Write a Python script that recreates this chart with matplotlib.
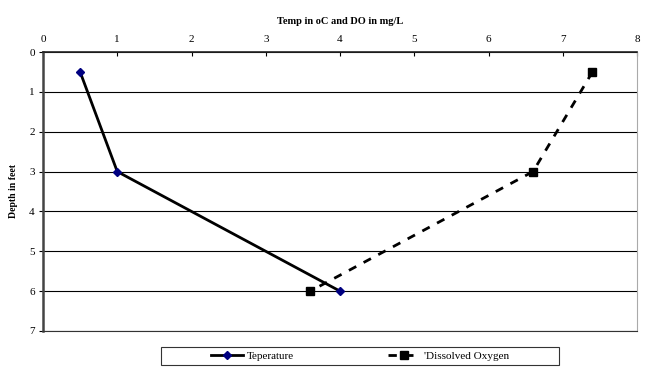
import matplotlib
matplotlib.use("Agg")
import matplotlib.pyplot as plt
from matplotlib.lines import Line2D
from matplotlib.patches import Rectangle

plt.rcParams['font.family'] = ['Liberation Serif', 'DejaVu Serif']

# data
depth = [0.5, 3, 6]
temp = [0.5, 1, 4]
oxygen = [7.4, 6.6, 3.6]
x_ticks = [0, 1, 2, 3, 4, 5, 6, 7, 8]
y_ticks = [0, 1, 2, 3, 4, 5, 6, 7]

fig = plt.figure(figsize=(6.49, 3.71), dpi=100)
ax = fig.add_axes([43 / 649, 1 - 331 / 371, 594 / 649, 279 / 371])

ax.plot(temp, depth, color='black', lw=2, marker='D', ms=4.5,
        mfc='#000080', mec='#000080', zorder=3)
ax.plot(oxygen, depth, color='black', lw=2, ls=(0, (3, 3)), marker='s', ms=6,
        mfc='black', mec='black', zorder=3)

ax.set_xlim(0, 8)
ax.set_ylim(7, 0)
ax.set_xticks(x_ticks)
ax.set_yticks(y_ticks)
ax.xaxis.tick_top()
ax.xaxis.set_label_position('top')
ax.tick_params(axis='x', direction='in', length=3, labelsize=8, pad=6, width=0.8)
ax.tick_params(axis='y', direction='out', length=3, labelsize=8, pad=3, width=0.8)

ax.yaxis.grid(True, color='black', lw=0.8)
ax.set_axisbelow(True)

ax.spines['left'].set_color('#444444')
ax.spines['left'].set_linewidth(1.8)
ax.spines['top'].set_color('#222222')
ax.spines['top'].set_linewidth(1.2)
ax.spines['right'].set_color('#aaaaaa')
ax.spines['right'].set_linewidth(0.8)
ax.spines['bottom'].set_color('#333333')
ax.spines['bottom'].set_linewidth(0.8)

ax.set_xlabel('Temp in oC and DO in mg/L', fontsize=7.5, fontweight='bold', labelpad=8)
ax.set_ylabel('Depth in feet', fontsize=7, fontweight='bold', labelpad=8)

# legend
h1 = Line2D([], [], color='black', lw=2, marker='D', ms=4.5, mfc='#000080', mec='#000080')
h2 = Line2D([], [], color='black', lw=2, ls=(0, (3, 3)), marker='s', ms=6, mfc='black', mec='black')
fig.legend([h1, h2], ['Teperature', "'Dissolved Oxygen"], ncol=2, frameon=False,
           loc='center', bbox_to_anchor=(360 / 649, 1 - 356 / 371),
           fontsize=8, handlelength=2.9, handletextpad=0.3, columnspacing=8.5,
           borderpad=0.2)
fig.patches.append(Rectangle((161 / 649, 1 - 365 / 371), 398 / 649, 18 / 371,
                             transform=fig.transFigure, fill=False,
                             edgecolor='#333333', lw=0.8))

fig.savefig('out.png', dpi=100)
